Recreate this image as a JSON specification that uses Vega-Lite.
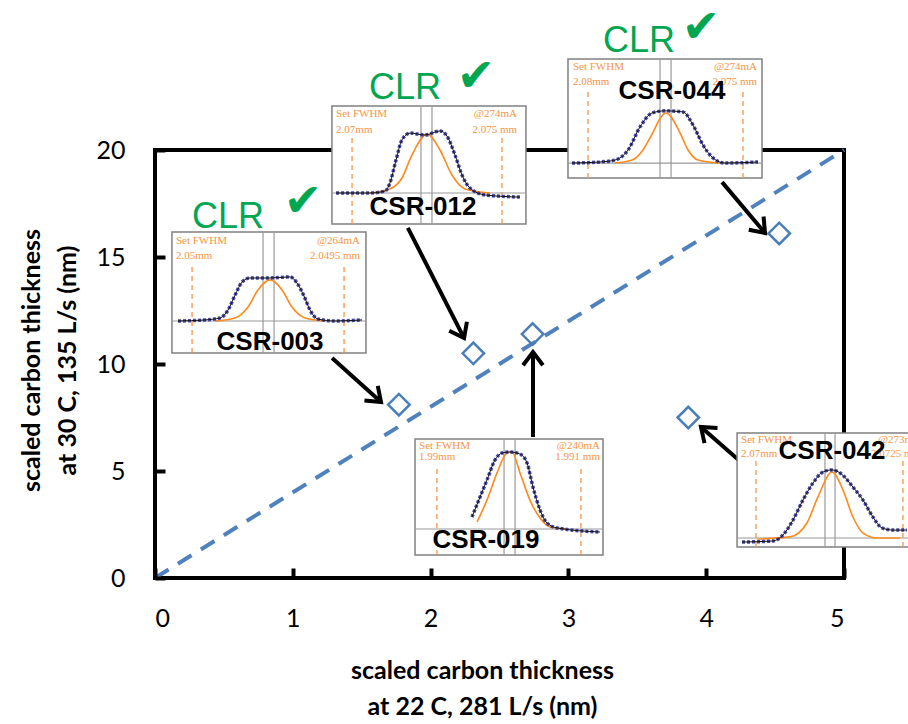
{
  "$schema": "https://vega.github.io/schema/vega-lite/v6.json",
  "autosize": {"type": "none"},
  "padding": {"left": 155, "top": 150, "right": 64, "bottom": 146},
  "width": 689,
  "height": 428,
  "background": "white",
  "config": {
    "view": {"stroke": "black", "strokeWidth": 4},
    "axis": {"grid": false, "domain": false, "labelFont": "Lato", "titleFont": "Lato", "labelColor": "black", "titleColor": "black", "tickColor": "black", "labelFontSize": 25, "titleFontSize": 25, "titleFontWeight": "bold", "titleLineHeight": 36, "format": "d"}
  },
  "datasets": {
    "pts": [
      {"x": 1.77, "y": 8.1},
      {"x": 2.31, "y": 10.5},
      {"x": 2.74, "y": 11.4},
      {"x": 4.53, "y": 16.1},
      {"x": 3.87, "y": 7.5}
    ],
    "diag": [{"x": 0, "y": 0}, {"x": 5, "y": 20}],
    "arrows": [
      {"x": 1.285, "y": 10.28, "x2": 1.64, "y2": 8.22, "a": 132},
      {"x": 1.835, "y": 16.36, "x2": 2.243, "y2": 11.21, "a": 153},
      {"x": 2.743, "y": 6.59, "x2": 2.743, "y2": 10.56, "a": 0},
      {"x": 4.115, "y": 18.5, "x2": 4.427, "y2": 16.12, "a": 138},
      {"x": 4.252, "y": 5.42, "x2": 3.962, "y2": 7.06, "a": 311}
    ],
    "boxes": [
      {"n": "003", "x": 0.123, "x2": 1.531, "y": 10.51, "y2": 16.17},
      {"n": "012", "x": 1.284, "x2": 2.692, "y": 16.54, "y2": 22.06},
      {"n": "044", "x": 2.997, "x2": 4.405, "y": 18.69, "y2": 24.25},
      {"n": "019", "x": 1.887, "x2": 3.251, "y": 1.07, "y2": 6.50},
      {"n": "042", "x": 4.224, "x2": 5.588, "y": 1.45, "y2": 6.78}
    ],
    "textL": [
      {"x": 0.152, "y": 15.75, "t": "Set FWHM"}, {"x": 0.152, "y": 15.05, "t": "2.05mm"},
      {"x": 1.314, "y": 21.68, "t": "Set FWHM"}, {"x": 1.314, "y": 20.94, "t": "2.07mm"},
      {"x": 3.033, "y": 23.88, "t": "Set FWHM"}, {"x": 3.033, "y": 23.18, "t": "2.08mm"},
      {"x": 1.916, "y": 6.17, "t": "Set FWHM"}, {"x": 1.916, "y": 5.65, "t": "1.99mm"},
      {"x": 4.253, "y": 6.45, "t": "Set FWHM"}, {"x": 4.253, "y": 5.79, "t": "2.07mm"}
    ],
    "textR": [
      {"x": 1.488, "y": 15.75, "t": "@264mA"}, {"x": 1.488, "y": 15.05, "t": "2.0495 mm"},
      {"x": 2.627, "y": 21.68, "t": "@274mA"}, {"x": 2.627, "y": 20.94, "t": "2.075 mm"},
      {"x": 4.369, "y": 23.88, "t": "@274mA"}, {"x": 4.369, "y": 23.18, "t": "2.075 mm"},
      {"x": 3.229, "y": 6.17, "t": "@240mA"}, {"x": 3.229, "y": 5.65, "t": "1.991 mm"},
      {"x": 5.559, "y": 6.45, "t": "@273mA"}, {"x": 5.559, "y": 5.79, "t": "2.0725 mm"}
    ],
    "dashes": [
      {"x": 0.269, "y": 10.51, "y2": 14.72}, {"x": 1.372, "y": 10.51, "y2": 14.72},
      {"x": 1.430, "y": 16.54, "y2": 20.70}, {"x": 2.518, "y": 16.54, "y2": 20.70},
      {"x": 3.142, "y": 18.69, "y2": 22.90}, {"x": 4.267, "y": 18.69, "y2": 22.90},
      {"x": 2.046, "y": 1.07, "y2": 5.28}, {"x": 3.091, "y": 1.07, "y2": 5.28},
      {"x": 4.361, "y": 1.45, "y2": 5.51}, {"x": 5.428, "y": 1.45, "y2": 5.51}
    ],
    "grayV": [
      {"x": 0.784, "y": 10.51, "y2": 16.17}, {"x": 0.864, "y": 10.51, "y2": 16.17},
      {"x": 1.930, "y": 16.54, "y2": 22.06}, {"x": 2.010, "y": 16.54, "y2": 22.06},
      {"x": 3.665, "y": 18.69, "y2": 24.25}, {"x": 3.745, "y": 18.69, "y2": 24.25},
      {"x": 2.533, "y": 1.07, "y2": 6.50}, {"x": 2.613, "y": 1.07, "y2": 6.50},
      {"x": 4.862, "y": 1.45, "y2": 6.78}, {"x": 4.935, "y": 1.45, "y2": 6.78}
    ],
    "grayH": [
      {"x": 0.123, "x2": 1.531, "y": 12.01},
      {"x": 1.284, "x2": 2.692, "y": 17.99},
      {"x": 2.997, "x2": 4.405, "y": 19.39},
      {"x": 1.887, "x2": 3.251, "y": 2.29},
      {"x": 4.224, "x2": 5.588, "y": 1.87}
    ],
    "blue": [
      {"n": "003", "x": 0.167, "y": 12.01}, {"n": "003", "x": 0.363, "y": 12.06}, {"n": "003", "x": 0.472, "y": 12.15}, {"n": "003", "x": 0.530, "y": 12.52}, {"n": "003", "x": 0.581, "y": 13.22}, {"n": "003", "x": 0.632, "y": 13.83}, {"n": "003", "x": 0.690, "y": 14.02}, {"n": "003", "x": 0.835, "y": 14.02}, {"n": "003", "x": 0.980, "y": 14.07}, {"n": "003", "x": 1.030, "y": 13.79}, {"n": "003", "x": 1.081, "y": 13.18}, {"n": "003", "x": 1.125, "y": 12.52}, {"n": "003", "x": 1.183, "y": 12.10}, {"n": "003", "x": 1.306, "y": 12.01}, {"n": "003", "x": 1.502, "y": 12.06},
      {"n": "012", "x": 1.314, "y": 17.99}, {"n": "012", "x": 1.560, "y": 17.99}, {"n": "012", "x": 1.669, "y": 18.08}, {"n": "012", "x": 1.705, "y": 18.46}, {"n": "012", "x": 1.749, "y": 19.53}, {"n": "012", "x": 1.792, "y": 20.47}, {"n": "012", "x": 1.851, "y": 20.79}, {"n": "012", "x": 1.959, "y": 20.70}, {"n": "012", "x": 2.068, "y": 20.89}, {"n": "012", "x": 2.119, "y": 20.65}, {"n": "012", "x": 2.177, "y": 19.77}, {"n": "012", "x": 2.228, "y": 18.83}, {"n": "012", "x": 2.286, "y": 18.22}, {"n": "012", "x": 2.395, "y": 17.90}, {"n": "012", "x": 2.649, "y": 17.80},
      {"n": "044", "x": 3.026, "y": 19.39}, {"n": "044", "x": 3.229, "y": 19.44}, {"n": "044", "x": 3.338, "y": 19.53}, {"n": "044", "x": 3.433, "y": 20.00}, {"n": "044", "x": 3.520, "y": 21.08}, {"n": "044", "x": 3.607, "y": 21.73}, {"n": "044", "x": 3.701, "y": 21.83}, {"n": "044", "x": 3.832, "y": 21.78}, {"n": "044", "x": 3.904, "y": 21.17}, {"n": "044", "x": 3.977, "y": 20.23}, {"n": "044", "x": 4.049, "y": 19.63}, {"n": "044", "x": 4.136, "y": 19.39}, {"n": "044", "x": 4.376, "y": 19.44},
      {"n": "019", "x": 2.300, "y": 2.85}, {"n": "019", "x": 2.344, "y": 3.55}, {"n": "019", "x": 2.409, "y": 4.58}, {"n": "019", "x": 2.467, "y": 5.51}, {"n": "019", "x": 2.518, "y": 5.84}, {"n": "019", "x": 2.576, "y": 5.89}, {"n": "019", "x": 2.649, "y": 5.79}, {"n": "019", "x": 2.700, "y": 5.37}, {"n": "019", "x": 2.743, "y": 4.25}, {"n": "019", "x": 2.794, "y": 3.18}, {"n": "019", "x": 2.845, "y": 2.57}, {"n": "019", "x": 2.918, "y": 2.34}, {"n": "019", "x": 3.229, "y": 2.15},
      {"n": "042", "x": 4.260, "y": 1.68}, {"n": "042", "x": 4.485, "y": 1.73}, {"n": "042", "x": 4.557, "y": 2.01}, {"n": "042", "x": 4.630, "y": 2.71}, {"n": "042", "x": 4.702, "y": 3.64}, {"n": "042", "x": 4.775, "y": 4.44}, {"n": "042", "x": 4.847, "y": 4.95}, {"n": "042", "x": 4.913, "y": 5.05}, {"n": "042", "x": 4.971, "y": 4.91}, {"n": "042", "x": 5.065, "y": 4.25}, {"n": "042", "x": 5.138, "y": 3.64}, {"n": "042", "x": 5.210, "y": 2.85}, {"n": "042", "x": 5.276, "y": 2.34}, {"n": "042", "x": 5.356, "y": 2.24}, {"n": "042", "x": 5.457, "y": 2.24}
    ],
    "orange": [
      {"n": "003", "x": 0.435, "y": 12.01}, {"n": "003", "x": 0.581, "y": 12.15}, {"n": "003", "x": 0.675, "y": 12.66}, {"n": "003", "x": 0.747, "y": 13.46}, {"n": "003", "x": 0.835, "y": 13.93}, {"n": "003", "x": 0.922, "y": 13.46}, {"n": "003", "x": 0.994, "y": 12.66}, {"n": "003", "x": 1.089, "y": 12.15}, {"n": "003", "x": 1.234, "y": 12.01},
      {"n": "012", "x": 1.560, "y": 17.99}, {"n": "012", "x": 1.705, "y": 18.18}, {"n": "012", "x": 1.792, "y": 18.69}, {"n": "012", "x": 1.865, "y": 19.77}, {"n": "012", "x": 1.974, "y": 20.75}, {"n": "012", "x": 2.068, "y": 20.00}, {"n": "012", "x": 2.155, "y": 18.83}, {"n": "012", "x": 2.250, "y": 18.18}, {"n": "012", "x": 2.431, "y": 17.99},
      {"n": "044", "x": 3.338, "y": 19.39}, {"n": "044", "x": 3.462, "y": 19.53}, {"n": "044", "x": 3.541, "y": 20.00}, {"n": "044", "x": 3.592, "y": 20.56}, {"n": "044", "x": 3.708, "y": 21.73}, {"n": "044", "x": 3.810, "y": 20.80}, {"n": "044", "x": 3.868, "y": 20.00}, {"n": "044", "x": 3.941, "y": 19.53}, {"n": "044", "x": 4.100, "y": 19.39},
      {"n": "019", "x": 2.337, "y": 2.62}, {"n": "019", "x": 2.409, "y": 3.64}, {"n": "019", "x": 2.482, "y": 4.91}, {"n": "019", "x": 2.554, "y": 5.84}, {"n": "019", "x": 2.591, "y": 5.89}, {"n": "019", "x": 2.649, "y": 4.91}, {"n": "019", "x": 2.721, "y": 3.64}, {"n": "019", "x": 2.794, "y": 2.80}, {"n": "019", "x": 2.867, "y": 2.38}, {"n": "019", "x": 2.990, "y": 2.29},
      {"n": "042", "x": 4.369, "y": 1.82}, {"n": "042", "x": 4.608, "y": 1.92}, {"n": "042", "x": 4.731, "y": 2.57}, {"n": "042", "x": 4.811, "y": 3.79}, {"n": "042", "x": 4.913, "y": 4.95}, {"n": "042", "x": 4.993, "y": 4.11}, {"n": "042", "x": 5.065, "y": 2.85}, {"n": "042", "x": 5.138, "y": 2.10}, {"n": "042", "x": 5.240, "y": 1.87}, {"n": "042", "x": 5.407, "y": 1.87}
    ],
    "labels": [
      {"x": 0.835, "y": 11.03, "t": "CSR-003"},
      {"x": 1.945, "y": 17.34, "t": "CSR-012"},
      {"x": 3.752, "y": 22.76, "t": "CSR-044"},
      {"x": 2.402, "y": 1.78, "t": "CSR-019"},
      {"x": 4.913, "y": 5.93, "t": "CSR-042"}
    ],
    "clr": [
      {"x": 0.530, "y": 16.87, "t": "CLR"},
      {"x": 1.814, "y": 22.90, "t": "CLR"},
      {"x": 3.512, "y": 25.09, "t": "CLR"}
    ],
    "checks": [
      {"x": 1.074, "y": 17.57, "t": "✔"},
      {"x": 2.330, "y": 23.41, "t": "✔"},
      {"x": 3.962, "y": 25.70, "t": "✔"}
    ]
  },
  "layer": [
    {
      "data": {"name": "diag"},
      "mark": {"type": "line", "color": "#4f81bd", "strokeWidth": 4, "strokeDash": [16, 11]},
      "encoding": {
        "x": {"field": "x", "type": "quantitative", "scale": {"domain": [0, 5], "nice": false}, "axis": {"values": [0, 1, 2, 3, 4, 5], "ticks": true, "tickSize": 10, "tickWidth": 4, "tickColor": "black", "offset": -10, "labelPadding": 28, "zindex": 1, "title": ["scaled carbon thickness", "at 22 C, 281 L/s (nm)"], "titleX": 327, "titleY": 102, "titleBaseline": "middle"}},
        "y": {"field": "y", "type": "quantitative", "scale": {"domain": [0, 20], "nice": false}, "axis": {"values": [0, 5, 10, 15, 20], "ticks": true, "tickSize": 10, "tickWidth": 4, "tickColor": "black", "offset": -10, "labelPadding": 30, "zindex": 1, "title": ["scaled carbon thickness", "at 30 C, 135 L/s (nm)"], "titleX": -134, "titleY": 210, "titleBaseline": "middle", "titleAngle": -90, "titleAlign": "center"}}
      }
    },
    {
      "data": {"name": "pts"},
      "mark": {"type": "point", "shape": "diamond", "filled": false, "color": "#4a7ebb", "strokeWidth": 2.5, "size": 460, "opacity": 1},
      "encoding": {"x": {"field": "x", "type": "quantitative"}, "y": {"field": "y", "type": "quantitative"}}
    },
    {
      "data": {"name": "arrows"},
      "mark": {"type": "rule", "color": "black", "strokeWidth": 4},
      "encoding": {"x": {"field": "x", "type": "quantitative"}, "y": {"field": "y", "type": "quantitative"}, "x2": {"field": "x2"}, "y2": {"field": "y2"}}
    },
    {
      "data": {"name": "arrows"},
      "mark": {"type": "point", "shape": "M-0.6,0.8L0,0L0.6,0.8", "filled": false, "color": "black", "strokeWidth": 4, "size": 1100, "opacity": 1, "strokeJoin": "miter"},
      "encoding": {"x": {"field": "x2", "type": "quantitative"}, "y": {"field": "y2", "type": "quantitative"}, "angle": {"field": "a", "type": "quantitative", "scale": null}}
    },
    {
      "data": {"name": "boxes"},
      "mark": {"type": "rect", "fill": "white", "stroke": "#808080", "strokeWidth": 1.5},
      "encoding": {"x": {"field": "x", "type": "quantitative"}, "x2": {"field": "x2"}, "y": {"field": "y", "type": "quantitative"}, "y2": {"field": "y2"}}
    },
    {
      "data": {"name": "grayV"},
      "mark": {"type": "rule", "color": "#9a9a9a", "strokeWidth": 1.2},
      "encoding": {"x": {"field": "x", "type": "quantitative"}, "y": {"field": "y", "type": "quantitative"}, "y2": {"field": "y2"}}
    },
    {
      "data": {"name": "grayH"},
      "mark": {"type": "rule", "color": "#9a9a9a", "strokeWidth": 1.2},
      "encoding": {"x": {"field": "x", "type": "quantitative"}, "x2": {"field": "x2"}, "y": {"field": "y", "type": "quantitative"}}
    },
    {
      "data": {"name": "dashes"},
      "mark": {"type": "rule", "color": "#f79646", "strokeWidth": 1.3, "strokeDash": [5, 4]},
      "encoding": {"x": {"field": "x", "type": "quantitative"}, "y": {"field": "y", "type": "quantitative"}, "y2": {"field": "y2"}}
    },
    {
      "data": {"name": "orange"},
      "mark": {"type": "line", "color": "#ff8a1c", "strokeWidth": 1.6, "interpolate": "monotone"},
      "encoding": {"x": {"field": "x", "type": "quantitative"}, "y": {"field": "y", "type": "quantitative"}, "detail": {"field": "n"}}
    },
    {
      "data": {"name": "blue"},
      "mark": {"type": "line", "color": "#34359a", "strokeWidth": 3.5, "interpolate": "monotone", "opacity": 0.9, "strokeDash": [3, 2]},
      "encoding": {"x": {"field": "x", "type": "quantitative"}, "y": {"field": "y", "type": "quantitative"}, "detail": {"field": "n"}}
    },
    {
      "data": {"name": "blue"},
      "mark": {"type": "line", "color": "#111111", "strokeWidth": 1, "interpolate": "monotone"},
      "encoding": {"x": {"field": "x", "type": "quantitative"}, "y": {"field": "y", "type": "quantitative"}, "detail": {"field": "n"}}
    },
    {
      "data": {"name": "textL"},
      "mark": {"type": "text", "align": "left", "baseline": "middle", "font": "Liberation Serif", "fontSize": 11, "color": "#f79646"},
      "encoding": {"x": {"field": "x", "type": "quantitative"}, "y": {"field": "y", "type": "quantitative"}, "text": {"field": "t"}}
    },
    {
      "data": {"name": "textR"},
      "mark": {"type": "text", "align": "right", "baseline": "middle", "font": "Liberation Serif", "fontSize": 11, "color": "#f79646"},
      "encoding": {"x": {"field": "x", "type": "quantitative"}, "y": {"field": "y", "type": "quantitative"}, "text": {"field": "t"}}
    },
    {
      "data": {"name": "labels"},
      "mark": {"type": "text", "align": "center", "baseline": "middle", "font": "Liberation Sans", "fontWeight": "bold", "fontSize": 26, "color": "black"},
      "encoding": {"x": {"field": "x", "type": "quantitative"}, "y": {"field": "y", "type": "quantitative"}, "text": {"field": "t"}}
    },
    {
      "data": {"name": "clr"},
      "mark": {"type": "text", "align": "center", "baseline": "middle", "font": "Liberation Sans", "fontSize": 36, "color": "#00a650"},
      "encoding": {"x": {"field": "x", "type": "quantitative"}, "y": {"field": "y", "type": "quantitative"}, "text": {"field": "t"}}
    },
    {
      "data": {"name": "checks"},
      "mark": {"type": "text", "align": "center", "baseline": "middle", "font": "DejaVu Sans", "fontSize": 46, "color": "#00a650"},
      "encoding": {"x": {"field": "x", "type": "quantitative"}, "y": {"field": "y", "type": "quantitative"}, "text": {"field": "t"}}
    }
  ]
}
